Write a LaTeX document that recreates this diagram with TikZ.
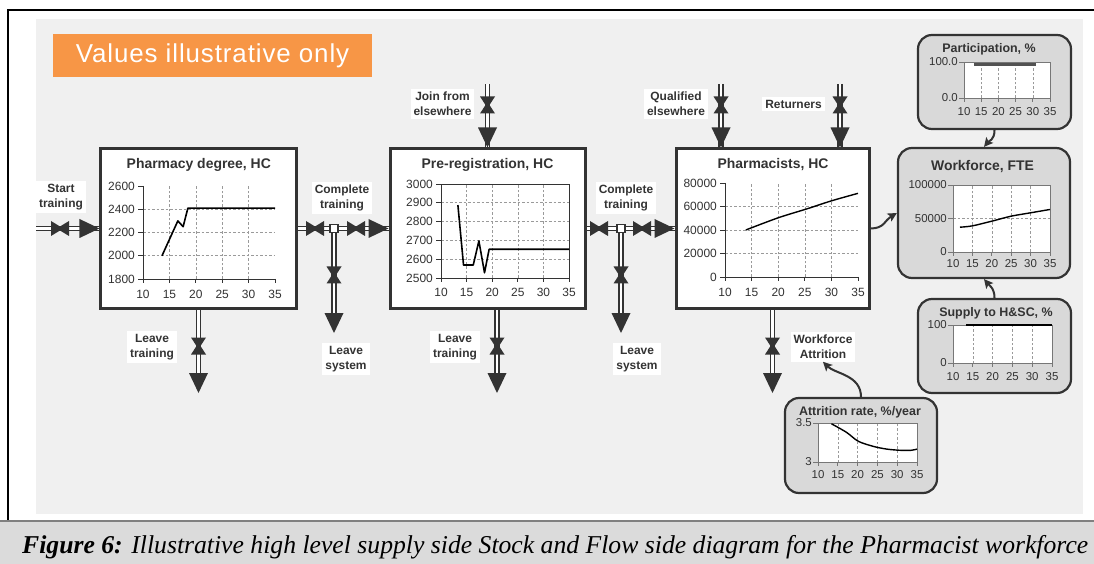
\documentclass[tikz,border=0pt]{standalone}
\usepackage{fontspec}
\usepackage{graphicx}
\setmainfont{Liberation Sans}
\newfontfamily\bannerfont[LetterSpace=3.5]{Liberation Sans}
\newfontfamily\capfont{Liberation Serif}
\usetikzlibrary{arrows.meta}

\definecolor{inkc}{HTML}{333333}
\definecolor{panelc}{HTML}{F0F0F0}
\definecolor{bannerc}{HTML}{F79646}
\definecolor{auxc}{HTML}{D9D9D9}
\definecolor{gridc}{HTML}{9A9A9A}
\definecolor{capc}{HTML}{DBDBDB}
\definecolor{caplinec}{HTML}{808080}
\definecolor{gaxc}{HTML}{777777}

\newcommand\fsz[1]{\fontsize{#1}{#1}\selectfont}

\tikzset{
  stock/.style={draw=inkc, line width=3bp, fill=white, inner sep=0pt},
  aux/.style={draw=inkc, line width=2.2bp, fill=auxc, rounded corners=14bp, inner sep=0pt},
  pipe/.style={draw=inkc, line width=1.6bp, double=white, double distance=2.6bp},
  flowlabel/.style={fill=white, text=inkc, font=\bfseries\fontsize{12}{15.5}\selectfont, align=center, inner xsep=3bp, inner ysep=2.5bp},
  title/.style={text=inkc, font=\bfseries\fsz{14}, inner sep=0pt},
  gtitle/.style={text=inkc, font=\bfseries\fsz{12.5}, inner sep=0pt},
  ticklab/.style={text=inkc, font=\fsz{12}, inner sep=0pt},
  gticklab/.style={text=inkc, font=\fsz{11.5}, inner sep=0pt},
  axisl/.style={draw=inkc, line width=0.9bp},
  gaxis/.style={draw=gaxc, line width=0.8bp},
  gridl/.style={draw=gridc, line width=0.6bp, dash pattern=on 2.5bp off 2bp},
  dataline/.style={draw=black, line width=1.6bp, line join=round},
  info/.style={draw=inkc, line width=2bp, -{Stealth[length=9bp,width=9bp,inset=2bp]}},
  pics/valveh/.style={code={\fill[inkc] (-9,-7.5) -- (0,-2) -- (9,-7.5) -- (9,7.5) -- (0,2) -- (-9,7.5) -- cycle;}},
  pics/valvev/.style={code={\fill[inkc] (-7.5,-8.5) -- (7.5,-8.5) -- (2,0) -- (7.5,8.5) -- (-7.5,8.5) -- (-2,0) -- cycle;}},
  pics/headr/.style={code={\fill[inkc] (0,0) -- (-20,-9.5) -- (-20,9.5) -- cycle;}},
  pics/headd/.style={code={\fill[inkc] (0,0) -- (-9.5,-20) -- (9.5,-20) -- cycle;}},
  pics/junction/.style={code={\draw[inkc, line width=1.6bp, fill=white] (-4,-4) rectangle (4,4);}},
}

\begin{document}
\begin{tikzpicture}[x=1bp, y=-1bp]
\useasboundingbox (0,0) rectangle (1094,564);

% page frame, grey panel and caption band
\fill[panelc] (36,19) rectangle (1083,514);
\draw[black, line width=1.3bp] (8,521) -- (8,10) -- (1094,10);
\fill[capc] (0,521) rectangle (1094,564);
\draw[caplinec, line width=2bp] (0,521) -- (1094,521);
\node[anchor=west, inner sep=0pt] (cap) at (22,547)
  {\resizebox{1066bp}{!}{\capfont\fontsize{20}{24}\selectfont\itshape\textbf{Figure 6:} Illustrative high level supply side Stock and Flow side diagram for the Pharmacist workforce}};

% banner
\node[fill=bannerc, text=white, minimum width=319bp, minimum height=43bp, inner sep=0pt,
      font=\bannerfont\fsz{26}] (banner) at (212.5,55.5) {Values illustrative only};

% end points of the flows
\coordinate (st0) at (36,228.5);
\coordinate (j1) at (334,228.5);
\coordinate (j2) at (621,228.5);
\coordinate (ls1) at (334,333);
\coordinate (ls2) at (621,333);
\coordinate (lt1) at (198.5,393);
\coordinate (lt2) at (497,393);
\coordinate (wa) at (772.5,393);
\coordinate (jn) at (487.5,84);
\coordinate (qe) at (721,84);
\coordinate (rt) at (840,84);

% stocks (placed first so the pipes can refer to them)
\node[stock, minimum width=195bp, minimum height=159bp] (deg) at (198.5,228.5) {};
\node[stock, minimum width=195bp, minimum height=159bp] (prereg) at (487.5,228.5) {};
\node[stock, minimum width=193bp, minimum height=159bp] (pharm) at (772.5,228.5) {};

% pipes
\draw[pipe] (st0) -- (deg.west);
\draw[pipe] (deg.east) -- (prereg.west);
\draw[pipe, shorten >=10bp] (j1) -- (ls1);
\draw[pipe, shorten >=10bp] (deg.south) -- (lt1);
\draw[pipe] (jn) -- (prereg.north -| jn);
\draw[pipe, shorten >=10bp] (prereg.south -| lt2) -- (lt2);
\draw[pipe] (prereg.east) -- (pharm.west);
\draw[pipe, shorten >=10bp] (j2) -- (ls2);
\draw[pipe] (qe) -- (pharm.north -| qe);
\draw[pipe] (rt) -- (pharm.north -| rt);
\draw[pipe, shorten >=10bp] (pharm.south) -- (wa);

% stock borders redrawn over the pipe ends
\node[stock, minimum width=195bp, minimum height=159bp] at (deg) {};
\node[stock, minimum width=195bp, minimum height=159bp] at (prereg) {};
\node[stock, minimum width=193bp, minimum height=159bp] at (pharm) {};

% valves, junctions and arrow heads
\pic at (60,228.5) {valveh};
\pic at (deg.west) {headr};
\pic at (315,228.5) {valveh};
\pic at (356,228.5) {valveh};
\pic at (j1) {junction};
\pic at (prereg.west) {headr};
\pic at (334,275) {valvev};
\pic at (ls1) {headd};
\pic at (198.5,346) {valvev};
\pic at (lt1) {headd};
\pic at (487.5,105) {valvev};
\pic at (prereg.north -| jn) {headd};
\pic at (497,346) {valvev};
\pic at (lt2) {headd};
\pic at (599,228.5) {valveh};
\pic at (642,228.5) {valveh};
\pic at (j2) {junction};
\pic at (pharm.west) {headr};
\pic at (621,275) {valvev};
\pic at (ls2) {headd};
\pic at (721,105) {valvev};
\pic at (pharm.north -| qe) {headd};
\pic at (840,105) {valvev};
\pic at (pharm.north -| rt) {headd};
\pic at (772.5,346) {valvev};
\pic at (wa) {headd};

% flow labels
\node[flowlabel] (lbStart) at (61,197) {Start\\training};
\node[flowlabel] (lbCT1) at (342,198) {Complete\\training};
\node[flowlabel] (lbCT2) at (626,198) {Complete\\training};
\node[flowlabel] (lbJoin) at (442.5,104) {Join from\\elsewhere};
\node[flowlabel] (lbQual) at (676,104) {Qualified\\elsewhere};
\node[flowlabel, minimum width=61bp] (lbRet) at (793.5,104) {Returners};
\node[flowlabel] (lbLT1) at (152,347) {Leave\\training};
\node[flowlabel] (lbLT2) at (455,347) {Leave\\training};
\node[flowlabel] (lbLS1) at (346,359) {Leave\\system};
\node[flowlabel] (lbLS2) at (637,359) {Leave\\system};
\node[flowlabel] (lbWA) at (823,347) {Workforce\\Attrition};

% stock titles
\node[title] at (198.8,165) {Pharmacy degree, HC};
\node[title] at (487.5,165) {Pre-registration, HC};
\node[title] at (773,165) {Pharmacists, HC};

% Pharmacy degree chart: years 10-35, 1800-2600
\begin{scope}[shift={(143,279)}, x=5.28bp, y=93bp]
  \foreach \t in {5,10,15,20} \draw[gridl] (\t,0) -- (\t,1);
  \foreach \v in {0.25,0.5,0.75} \draw[gridl] (0,\v) -- (25,\v);
  \draw[axisl] (0,1) -- (0,0) -- (25,0);
  \foreach \v/\l in {0/1800,0.25/2000,0.5/2200,0.75/2400,1/2600}
    {\draw[axisl] (0,\v) -- ++(-5bp,0); \node[ticklab,anchor=east] at ([xshift=-8bp]0,\v) {\l};}
  \foreach \t/\l in {0/10,5/15,10/20,15/25,20/30,25/35}
    {\draw[axisl] (\t,0) -- ++(0,-4bp); \node[ticklab] at ([yshift=-15bp]\t,0) {\l};}
  \draw[dataline] (3.6,0.25) -- (6.6,0.625) -- (7.6,0.5625) -- (8.5,0.7625) -- (25,0.7625);
\end{scope}

% Pre-registration chart: years 10-35, 2500-3000
\begin{scope}[shift={(441,278)}, x=5.12bp, y=94bp]
  \foreach \t in {5,10,15,20} \draw[gridl] (\t,0) -- (\t,1);
  \foreach \v in {0.2,0.4,0.6,0.8} \draw[gridl] (0,\v) -- (25,\v);
  \draw[axisl] (0,0) rectangle (25,1);
  \foreach \v/\l in {0/2500,0.2/2600,0.4/2700,0.6/2800,0.8/2900,1/3000}
    {\draw[axisl] (0,\v) -- ++(-5bp,0); \node[ticklab,anchor=east] at ([xshift=-8bp]0,\v) {\l};}
  \foreach \t/\l in {0/10,5/15,10/20,15/25,20/30,25/35}
    {\draw[axisl] (\t,0) -- ++(0,-4bp); \node[ticklab] at ([yshift=-14bp]\t,0) {\l};}
  \draw[dataline] (3.3,0.776) -- (4.4,0.138) -- (6.3,0.138) -- (7.4,0.394) -- (8.5,0.056) -- (9.4,0.306) -- (25,0.306);
\end{scope}

% Pharmacists chart: years 10-35, 0-80000
\begin{scope}[shift={(725,277)}, x=5.32bp, y=94bp]
  \foreach \t in {5,10,15,20} \draw[gridl] (\t,0) -- (\t,1);
  \foreach \v in {0.25,0.5,0.75} \draw[gridl] (0,\v) -- (25,\v);
  \draw[axisl] (0,1) -- (0,0) -- (25,0);
  \foreach \v/\l in {0/0,0.25/20000,0.5/40000,0.75/60000,1/80000}
    {\draw[axisl] (0,\v) -- ++(-5bp,0); \node[ticklab,anchor=east] at ([xshift=-8bp]0,\v) {\l};}
  \foreach \t/\l in {0/10,5/15,10/20,15/25,20/30,25/35}
    {\draw[axisl] (\t,0) -- ++(0,-4bp); \node[ticklab] at ([yshift=-15bp]\t,0) {\l};}
  \draw[dataline, line width=1.4bp] plot[smooth] coordinates {(3.9,0.5) (10,0.63) (15.4,0.725) (20,0.81) (25,0.89)};
\end{scope}

% auxiliaries
\node[aux, minimum width=153bp, minimum height=94bp] (part) at (994.5,82) {};
\node[aux, minimum width=172bp, minimum height=130bp] (wf) at (984,213) {};
\node[aux, minimum width=153bp, minimum height=94bp] (sup) at (994.5,346) {};
\node[aux, minimum width=152bp, minimum height=95bp] (att) at (861,445.5) {};

\node[gtitle] at (989,49) {Participation, \%};
\node[title] at (982.5,167) {Workforce, FTE};
\node[gtitle] at (996,313) {Supply to H\&SC, \%};
\node[gtitle] at (860,412) {Attrition rate, \%/year};

% Participation chart
\begin{scope}[shift={(964,98)}, x=3.44bp, y=36bp]
  \fill[white] (0,0) rectangle (25,1);
  \foreach \t in {5,10,15,20} \draw[gridl] (\t,0) -- (\t,1);
  \draw[gaxis] (0,0) rectangle (25,1);
  \foreach \v/\l in {0/0.0,1/100.0}
    {\draw[gaxis] (0,\v) -- ++(-5bp,0); \node[gticklab,anchor=east] at ([xshift=-6bp]0,\v) {\l};}
  \foreach \t/\l in {0/10,5/15,10/20,15/25,20/30,25/35}
    {\draw[gaxis] (\t,0) -- ++(0,-4bp); \node[gticklab] at ([yshift=-14bp]\t,0) {\l};}
  \draw[draw=inkc!85, line width=2.8bp] (2.9,0.94) -- (20.9,0.94);
\end{scope}

% Workforce chart
\begin{scope}[shift={(953,252)}, x=3.88bp, y=67bp]
  \fill[white] (0,0) rectangle (25,1);
  \foreach \t in {5,10,15,20} \draw[gridl] (\t,0) -- (\t,1);
  \draw[gridl] (0,0.5) -- (25,0.5);
  \draw[gaxis] (0,0) rectangle (25,1);
  \foreach \v/\l in {0/0,0.5/50000,1/100000}
    {\draw[gaxis] (0,\v) -- ++(-5bp,0); \node[gticklab,anchor=east] at ([xshift=-6bp]0,\v) {\l};}
  \foreach \t/\l in {0/10,5/15,10/20,15/25,20/30,25/35}
    {\draw[gaxis] (\t,0) -- ++(0,-4bp); \node[gticklab] at ([yshift=-12bp]\t,0) {\l};}
  \draw[dataline, line width=1.4bp] plot[smooth] coordinates {(1.8,0.37) (5,0.39) (10,0.46) (15,0.535) (20,0.585) (25,0.635)};
\end{scope}

% Supply to H&SC chart
\begin{scope}[shift={(953,363)}, x=3.96bp, y=38bp]
  \fill[white] (0,0) rectangle (25,1);
  \foreach \t in {5,10,15,20} \draw[gridl] (\t,0) -- (\t,1);
  \draw[gaxis] (0,0) rectangle (25,1);
  \foreach \v/\l in {0/0,1/100}
    {\draw[gaxis] (0,\v) -- ++(-5bp,0); \node[gticklab,anchor=east] at ([xshift=-6bp]0,\v) {\l};}
  \foreach \t/\l in {0/10,5/15,10/20,15/25,20/30,25/35}
    {\draw[gaxis] (\t,0) -- ++(0,-4bp); \node[gticklab] at ([yshift=-14bp]\t,0) {\l};}
  \draw[dataline, line width=2bp] (3.3,1) -- (25,1);
\end{scope}

% Attrition rate chart
\begin{scope}[shift={(818,462)}, x=3.96bp, y=39bp]
  \fill[white] (0,0) rectangle (25,1);
  \foreach \t in {5,10,15,20} \draw[gridl] (\t,0) -- (\t,1);
  \draw[gaxis] (0,0) rectangle (25,1);
  \foreach \v/\l in {0/3,1/3.5}
    {\draw[gaxis] (0,\v) -- ++(-5bp,0); \node[gticklab,anchor=east] at ([xshift=-6bp]0,\v) {\l};}
  \foreach \t/\l in {0/10,5/15,10/20,15/25,20/30,25/35}
    {\draw[gaxis] (\t,0) -- ++(0,-4bp); \node[gticklab] at ([yshift=-13bp]\t,0) {\l};}
  \draw[dataline, line width=1.4bp] plot[smooth] coordinates {(3.4,0.98) (7.2,0.76) (10.2,0.53) (14,0.40) (17.4,0.33) (20.8,0.30) (23.5,0.30) (25,0.33)};
\end{scope}

% information links
\draw[info] (pharm.east) .. controls +(14,0) and +(-12,7) .. (wf.west);
\draw[info] (part.south) .. controls +(0,10) and +(5,-6) .. (wf.north);
\draw[info] (sup.north) .. controls +(0,-10) and +(5,6) .. (wf.south);
\draw[info] (att.north) .. controls +(0,-22) and +(12,12) .. (lbWA.south);
\end{tikzpicture}
\end{document}
